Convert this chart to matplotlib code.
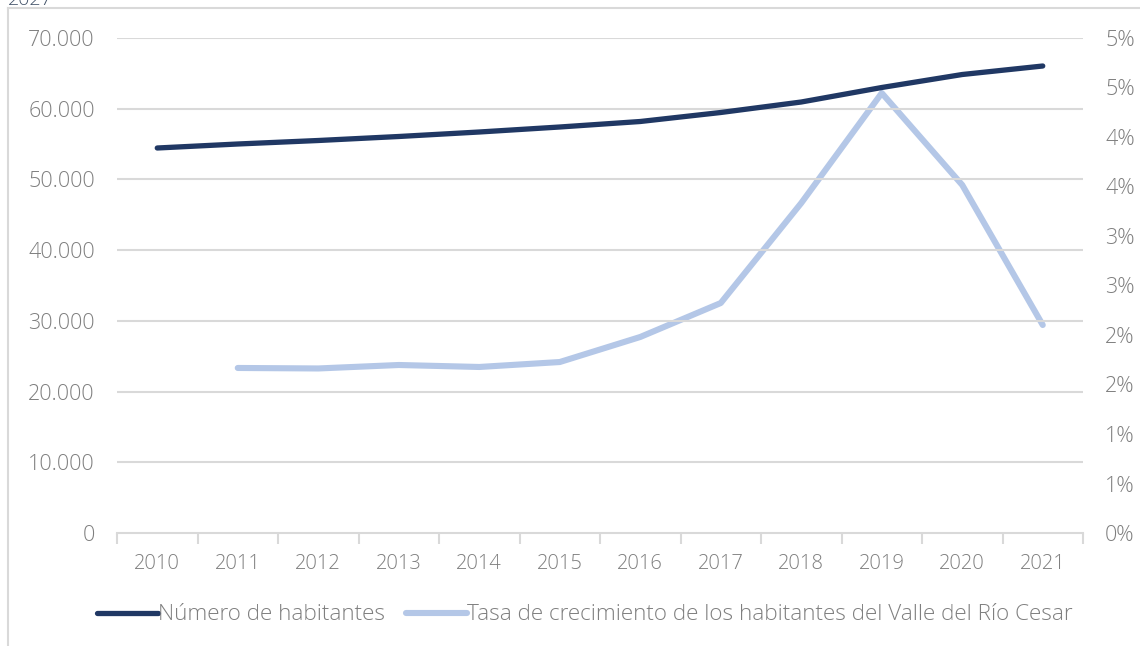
import matplotlib
matplotlib.use("Agg")
import matplotlib.pyplot as plt
from matplotlib.lines import Line2D
from matplotlib.ticker import FixedLocator

years = ["2010", "2011", "2012", "2013", "2014", "2015", "2016", "2017", "2018", "2019", "2020", "2021"]
habitantes = [54444, 55010, 55505, 56071, 56707, 57414, 58192, 59465, 60949, 63000, 64838, 66040]
tasa_years = ["2011", "2012", "2013", "2014", "2015", "2016", "2017", "2018", "2019", "2020", "2021"]
tasa = [0.01667, 0.01662, 0.01697, 0.01677, 0.01727, 0.01980, 0.02323, 0.03333, 0.04444, 0.03515, 0.02101]

left_ticks = [0, 10000, 20000, 30000, 40000, 50000, 60000, 70000]
left_labels = ["0", "10.000", "20.000", "30.000", "40.000", "50.000", "60.000", "70.000"]
right_ticks = [0.0, 0.005, 0.01, 0.015, 0.02, 0.025, 0.03, 0.035, 0.04, 0.045, 0.05]
right_labels = ["0%", "1%", "1%", "2%", "2%", "3%", "3%", "4%", "4%", "5%", "5%"]

series_names = ["Número de habitantes",
                "Tasa de crecimiento de los habitantes del Valle del Río Cesar"]
corner_text = "2027"

plt.rcParams['font.family'] = ['Open Sans', 'DejaVu Sans']
plt.rcParams['font.weight'] = 300

W, H = 1140, 646
fig = plt.figure(figsize=(W / 100, H / 100), dpi=100)
ax = fig.add_axes([117 / W, 1 - 533 / H, (1083 - 117) / W, (533 - 38) / H])
ax2 = ax.twinx()

label_color = "#7f7f7f"
grid_color = "#d9d9d9"
dark = "#203864"
light = "#b4c7e7"
FS_Y = 15.5
FS_X = 14.5
FS_L = 16.2

x = list(range(len(years)))
xt = [years.index(y) for y in tasa_years]

ax.plot(x, habitantes, color=dark, lw=3.8, solid_capstyle='round', zorder=3)
ax2.plot(xt, tasa, color=light, lw=4.4, solid_capstyle='round', zorder=2)
ax.set_zorder(ax2.get_zorder() + 1)
ax.patch.set_visible(False)

ax.set_xlim(-0.5, len(years) - 0.5)
ax.set_ylim(0, 70000)
ax2.set_ylim(0, 0.05)

ax.set_yticks(left_ticks)
ax.set_yticklabels(left_labels)
ax2.set_yticks(right_ticks)
ax2.set_yticklabels(right_labels)
ax.set_xticks(x)
ax.set_xticklabels(years)
ax.xaxis.set_minor_locator(FixedLocator([i - 0.5 for i in range(len(years) + 1)]))

ax.tick_params(axis='x', which='major', length=0, pad=15, labelsize=FS_X, labelcolor=label_color)
ax.tick_params(axis='x', which='minor', length=8, width=1.5, color=grid_color)
ax.tick_params(axis='y', length=0, pad=16, labelsize=FS_Y, labelcolor=label_color)
ax2.tick_params(axis='y', length=0, pad=16, labelsize=FS_Y, labelcolor=label_color)

ax.grid(axis='y', color=grid_color, lw=1.5)
for t in ax.yaxis.get_gridlines()[:1]:
    t.set_visible(False)
for s in ['left', 'right', 'top']:
    ax.spines[s].set_visible(False)
    ax2.spines[s].set_visible(False)
ax2.spines['bottom'].set_visible(False)
ax.spines['bottom'].set_color(grid_color)
ax.spines['bottom'].set_linewidth(1.5)

handles = [Line2D([0], [0], color=dark, lw=3.8, solid_capstyle='round'),
           Line2D([0], [0], color=light, lw=4.4, solid_capstyle='round')]
leg = fig.legend(handles, series_names, loc='center', bbox_to_anchor=(585 / W, 1 - 615 / H),
                 ncol=2, frameon=False, fontsize=FS_L, handlelength=2.7, handletextpad=0.0,
                 columnspacing=0.95)
for t in leg.get_texts():
    t.set_color(label_color)

# outer frame
fig.add_artist(Line2D([8 / W, 1], [1 - 7.5 / H, 1 - 7.5 / H], color=grid_color, lw=1.5, transform=fig.transFigure))
fig.add_artist(Line2D([8 / W, 8 / W], [0, 1 - 7.5 / H], color=grid_color, lw=1.5, transform=fig.transFigure))
fig.text(8 / W, 1 - 5 / H, corner_text, fontsize=14, color="#44546a", va='baseline', ha='left')

fig.savefig("out.png", dpi=100)
